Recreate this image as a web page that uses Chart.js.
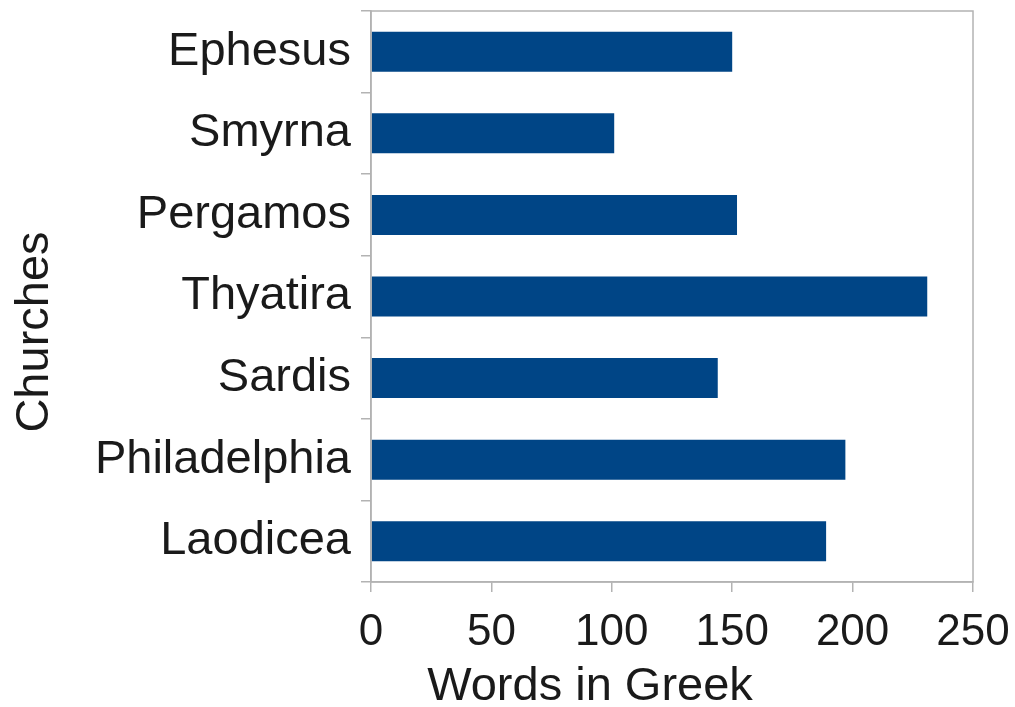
<!DOCTYPE html>
<html>
<head>
<meta charset="utf-8">
<script src="https://cdn.jsdelivr.net/npm/chart.js@4"></script>
<style>
    html, body { margin: 0; padding: 0; background: #ffffff; }
    #wrap { width: 1015px; height: 707px; }
</style>
</head>
<body>
<div id="wrap"><canvas id="churchChart" width="1015" height="707"></canvas></div>
<script>
// Chart data
const churches = ['Ephesus', 'Smyrna', 'Pergamos', 'Thyatira', 'Sardis', 'Philadelphia', 'Laodicea'];
const wordCounts = [150, 101, 152, 231, 144, 197, 189];
const xTicks = [0, 50, 100, 150, 200, 250];
const xTitle = 'Words in Greek';
const yTitle = 'Churches';

const FONT = "'Liberation Sans', Arial, sans-serif";
const AXIS_GREY = '#b3b3b3';

// Drop the automatic label overhang padding so the plot area fills the frame
function noOverhang(scale) {
    scale.paddingTop = 0;
    scale.paddingBottom = 0;
    scale.paddingLeft = 0;
    scale.paddingRight = 0;
}

// Frame around plot area + axis titles placed like the original
const framePlugin = {
    id: 'frame',
    afterDraw(chart) {
        const { ctx, chartArea } = chart;
        ctx.save();
        ctx.strokeStyle = AXIS_GREY;
        ctx.lineWidth = 1.5;
        ctx.strokeRect(chartArea.left, chartArea.top, chartArea.right - chartArea.left, chartArea.bottom - chartArea.top);

        ctx.fillStyle = '#1a1a1a';
        ctx.font = '47px ' + FONT;
        ctx.textAlign = 'center';
        ctx.textBaseline = 'middle';
        ctx.fillText(xTitle, chartArea.left + 219, chartArea.bottom + 105);

        ctx.translate(35, chartArea.top + 321);
        ctx.rotate(-Math.PI / 2);
        ctx.fillText(yTitle, 0, 0);
        ctx.restore();
    }
};

function initChart() {
    const ctx = document.getElementById('churchChart');

    new Chart(ctx, {
        type: 'bar',
        data: {
            labels: churches,
            datasets: [{
                data: wordCounts,
                backgroundColor: '#004586',
                borderWidth: 0,
                categoryPercentage: 1,
                barPercentage: 0.49
            }]
        },
        options: {
            indexAxis: 'y',
            responsive: false,
            animation: false,
            layout: {
                padding: { top: 11, right: 42, left: 0, bottom: 0 }
            },
            plugins: {
                legend: { display: false },
                tooltip: { enabled: false }
            },
            scales: {
                x: {
                    type: 'linear',
                    min: xTicks[0],
                    max: xTicks[xTicks.length - 1],
                    afterBuildTicks(scale) {
                        scale.ticks = xTicks.map(v => ({ value: v }));
                    },
                    afterFit(scale) {
                        scale.height = 125;
                        noOverhang(scale);
                    },
                    grid: {
                        drawOnChartArea: false,
                        color: AXIS_GREY,
                        tickLength: 10,
                        lineWidth: 1.5
                    },
                    border: { color: AXIS_GREY, width: 1.5 },
                    ticks: {
                        color: '#1a1a1a',
                        padding: 14,
                        font: { family: FONT, size: 44 }
                    }
                },
                y: {
                    afterFit(scale) {
                        scale.width = 371;
                        noOverhang(scale);
                    },
                    grid: {
                        drawOnChartArea: false,
                        offset: true,
                        color: AXIS_GREY,
                        tickLength: 10,
                        lineWidth: 1.5
                    },
                    border: { color: AXIS_GREY, width: 1.5 },
                    ticks: {
                        color: '#1a1a1a',
                        padding: 10,
                        font: { family: FONT, size: 47 }
                    }
                }
            }
        },
        plugins: [framePlugin]
    });
}

document.addEventListener('DOMContentLoaded', initChart);
</script>
</body>
</html>
